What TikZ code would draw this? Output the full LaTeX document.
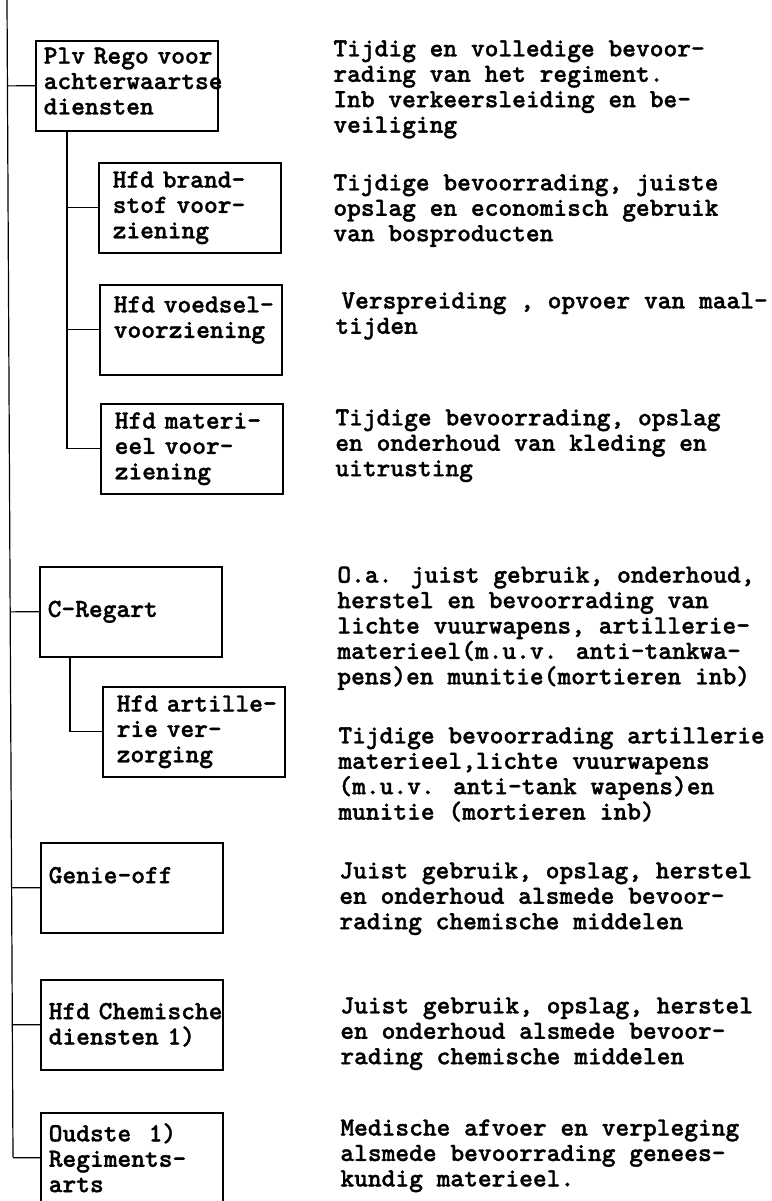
\documentclass[tikz,border=0pt]{standalone}
\usepackage{fontspec}
\newfontfamily\typ[HyphenChar=None, FakeBold=1.2]{lmmonolt10-bold.otf}
\usetikzlibrary{calc}

\begin{document}
\begin{tikzpicture}[x=0.5pt, y=-0.5pt,
	typing/.style={font={\typ\fontsize{13.1}{12.7}\selectfont}},
	box/.style={draw, line width=0.75pt, anchor=north west, typing,
		minimum width=91pt, minimum height=45pt,
		inner xsep=4pt, text width=83pt, align=left},
	subbox/.style={box, inner xsep=7pt, text width=77pt},
	desc/.style={anchor=north west, inner sep=0pt, align=left, typing},
	link/.style={line width=0.6pt}]

		% page size
		\useasboundingbox (0,0) rectangle (772,1201);

		% spine
		\coordinate (top) at (7,0);
		\coordinate (bot) at (13,1157);
		\draw[link] (top) -- (bot);

		% boxes, left column
		\node[box] (plv) at (35,40) {Plv~Rego~voor\\achterwaartse\\diensten\\[-8pt]\mbox{}};
		\node[subbox] (brand) at (98,162) {Hfd~brand-\\stof~voor-\\ziening};
		\node[subbox] (voed) at (99,284) {Hfd~voedsel-\\voorziening\\\mbox{}};
		\node[subbox] (mat) at (100,403) {Hfd~materi-\\eel~voor-\\ziening};
		\node[box] (creg) at (39,566) {C-Regart};
		\node[subbox] (art) at (102,686) {Hfd~artille-\\rie~ver-\\zorging};
		\node[box] (genie) at (40,842) {Genie-off\\\mbox{}};
		\node[box] (chem) at (40,979) {Hfd~Chemische\\diensten~1)};
		\node[box] (arts) at (40,1112) {Oudste~~1)\\Regiments-\\arts};

		% tasks, right column
		\node[desc] (plvd) at (333,40) {Tijdig en volledige bevoor-\\rading van het regiment.\\Inb verkeersleiding en be-\\veiliging};
		\node[desc] (brandd) at (333,174) {Tijdige bevoorrading, juiste\\opslag en economisch gebruik\\van bosproducten};
		\node[desc] (voedd) at (335,292) {\hspace{3pt}Verspreiding , opvoer van maal-\\tijden};
		\node[desc] (matd) at (335,409) {Tijdige bevoorrading, opslag\\en onderhoud van kleding en\\uitrusting};
		\node[desc] (cregd) at (337,566) {O.a. juist gebruik, onderhoud,\\herstel en bevoorrading van\\lichte vuurwapens, artillerie-\\materieel(m.u.v. anti-tankwa-\\pens)en munitie(mortieren inb)};
		\node[desc] (artd) at (338,727) {Tijdige bevoorrading artillerie\\materieel,lichte vuurwapens\\(m.u.v. anti-tank wapens)en\\munitie (mortieren inb)};
		\node[desc] (genied) at (339,862) {Juist gebruik, opslag, herstel\\en onderhoud alsmede bevoor-\\rading chemische middelen};
		\node[desc] (chemd) at (340,997) {Juist gebruik, opslag, herstel\\en onderhoud alsmede bevoor-\\rading chemische middelen};
		\node[desc] (medd) at (340,1119) {Medische afvoer en verpleging\\alsmede bevoorrading genees-\\kundig materieel.};

		% branches off the spine
		\foreach \b in {plv,creg,genie,chem,arts}
			\draw[link] (\b.west) -- ($(top)!(\b.west)!(bot)$);

		% sub branches
		\coordinate (plvfoot) at ([xshift=16pt]plv.south west);
		\draw[link] (plvfoot) |- (mat.west);
		\draw[link] (brand.west) -- (brand.west -| plvfoot);
		\draw[link] (voed.west) -- (voed.west -| plvfoot);

		\coordinate (cregfoot) at ([xshift=15.5pt]creg.south west);
		\draw[link] (cregfoot) |- (art.west);

\end{tikzpicture}
\end{document}
